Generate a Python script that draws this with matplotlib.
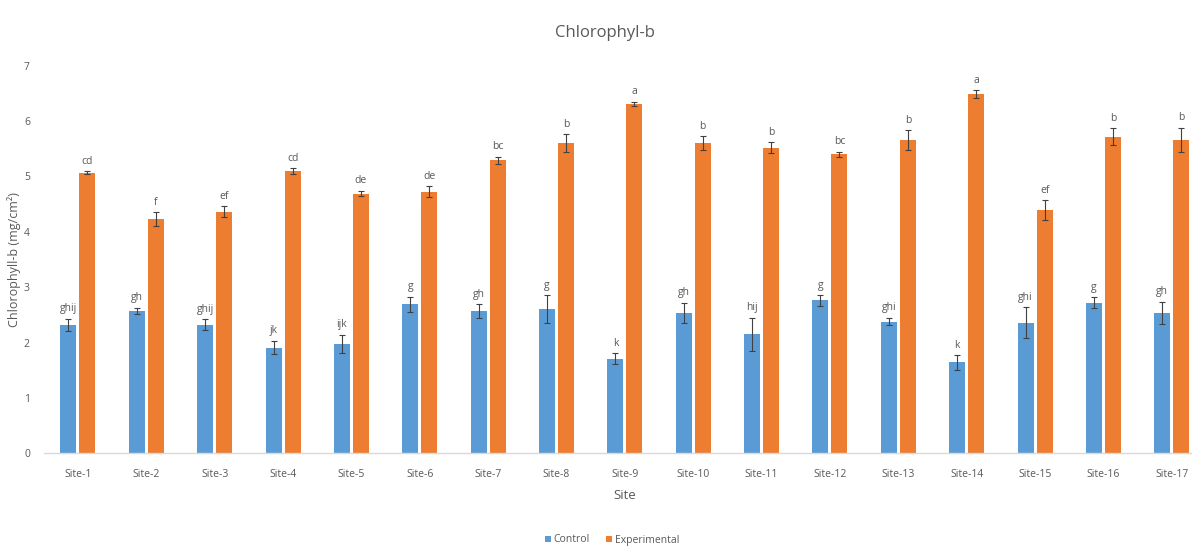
import matplotlib
matplotlib.use("Agg")
import matplotlib.pyplot as plt
from matplotlib.patches import Patch
import numpy as np

sites = [f"Site-{i}" for i in range(1, 18)]

control = [2.32, 2.57, 2.32, 1.91, 1.98, 2.69, 2.57, 2.61, 1.71, 2.54,
           2.15, 2.76, 2.38, 1.64, 2.36, 2.72, 2.54]
control_err = [0.11, 0.06, 0.10, 0.12, 0.16, 0.14, 0.12, 0.25, 0.10, 0.18,
               0.30, 0.10, 0.07, 0.13, 0.28, 0.10, 0.20]
control_groups = ["ghij", "gh", "ghij", "jk", "ijk", "g", "gh", "g", "k", "gh",
                  "hij", "g", "ghi", "k", "ghi", "g", "gh"]

experimental = [5.07, 4.23, 4.36, 5.10, 4.69, 4.72, 5.29, 5.60, 6.31, 5.60,
                5.52, 5.40, 5.66, 6.49, 4.39, 5.72, 5.66]
experimental_err = [0.02, 0.12, 0.10, 0.05, 0.05, 0.10, 0.07, 0.16, 0.04, 0.13,
                    0.10, 0.05, 0.18, 0.07, 0.18, 0.15, 0.22]
experimental_groups = ["cd", "f", "ef", "cd", "de", "de", "bc", "b", "a", "b",
                       "b", "bc", "b", "a", "ef", "b", "b"]

yticks = [0, 1, 2, 3, 4, 5, 6, 7]

BLUE = "#5B9BD5"
ORANGE = "#ED7D31"
TEXT = "#595959"
FONT = ["Open Sans", "DejaVu Sans"]

plt.rcParams["font.family"] = FONT

W, H = 1192, 547
fig = plt.figure(figsize=(W / 100, H / 100), dpi=100)
left, right = 43.8, 1206.0
top, bottom = 65.7, 453.3
ax = fig.add_axes([left / W, 1 - bottom / H, (right - left) / W, (bottom - top) / H])

x = np.arange(len(sites))
bw = 0.234
off = 0.139
err_kw = dict(ecolor="#404040", elinewidth=0.8, capsize=2.5, capthick=0.8)

ax.bar(x - off, control, bw, color=BLUE, yerr=control_err, error_kw=err_kw,
       zorder=2)
ax.bar(x + off, experimental, bw, color=ORANGE, yerr=experimental_err,
       error_kw=err_kw, zorder=2)

for xi, v, e, g in zip(x - off, control, control_err, control_groups):
    ax.text(xi, v + e + 0.08, g, ha="center", va="bottom", fontsize=7.5,
            color=TEXT)
for xi, v, e, g in zip(x + off, experimental, experimental_err, experimental_groups):
    ax.text(xi, v + e + 0.08, g, ha="center", va="bottom", fontsize=7.5,
            color=TEXT)

ax.set_xlim(-0.5, len(sites) - 0.5)
ax.set_ylim(0, 7)
ax.set_yticks(yticks)
ax.set_xticks(x)
ax.set_xticklabels(sites)
ax.tick_params(axis="both", length=0, labelsize=7.5, colors=TEXT)
ax.tick_params(axis="x", pad=11)
ax.tick_params(axis="y", pad=10)

for s in ["top", "right", "left"]:
    ax.spines[s].set_visible(False)
ax.spines["bottom"].set_color("#D9D9D9")
ax.spines["bottom"].set_linewidth(1.0)

ax.set_xlabel("Site", fontsize=9.5, color=TEXT, labelpad=7)
fig.text(14 / W, 1 - 259.5 / H, "Chlorophyll-b (mg/cm²)", rotation=90,
         ha="center", va="center", fontsize=9, color=TEXT)
fig.text(605 / W, 1 - 33 / H, "Chlorophyl-b", ha="center", va="center",
         fontsize=12, color=TEXT)

handles = [Patch(facecolor=BLUE, label="Control"),
           Patch(facecolor=ORANGE, label="Experimental")]
fig.legend(handles=handles, loc="center", bbox_to_anchor=(612 / W, 1 - 540 / H),
           ncol=2, frameon=False, fontsize=7.5, handlelength=0.6,
           handleheight=0.6, handletextpad=0.3, columnspacing=1.5,
           labelcolor=TEXT)

fig.savefig("out.png", dpi=100)
